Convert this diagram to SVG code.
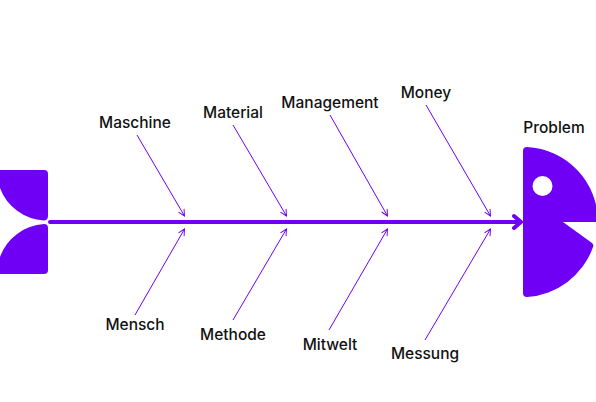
<svg xmlns="http://www.w3.org/2000/svg" width="596" height="402" viewBox="0 0 596 402">
<style>
.t{font-family:"Inter","Liberation Sans",sans-serif;font-size:15.500px;font-weight:500;fill:#111;text-anchor:middle}
.b{stroke:#6f00f5;stroke-width:1;fill:none}
.s{fill:#6f00f5}
</style>
<defs>
<marker id="a" viewBox="0 0 10 10" refX="9" refY="5" markerWidth="8" markerHeight="8" markerUnits="userSpaceOnUse" orient="auto"><path d="M1 1L9 5L1 9" fill="none" stroke="#6f00f5" stroke-width="1.200"/></marker>
</defs>
<g id="connectors">
<path d="M50 222H520M514 216L521 222L514 228" fill="none" stroke="#6f00f5" stroke-width="4" stroke-linecap="round" stroke-linejoin="round"/>
<path class="b" marker-end="url(#a)" d="M137 135L184.500 216"/>
<path class="b" marker-end="url(#a)" d="M233 125L286.500 216"/>
<path class="b" marker-end="url(#a)" d="M330 115L387.500 216"/>
<path class="b" marker-end="url(#a)" d="M426 105L490.500 216"/>
<path class="b" marker-end="url(#a)" d="M135 315L184.500 229"/>
<path class="b" marker-end="url(#a)" d="M233 320L286.500 229"/>
<path class="b" marker-end="url(#a)" d="M329 330L387.500 229"/>
<path class="b" marker-end="url(#a)" d="M425 340L490.500 229"/>
</g>
<g id="tail">
<path class="s" d="M0 170H44Q48 170 48 174V216Q48 220 44 220.500A50 50 0 0 1 0 188Z"/>
<path class="s" d="M0 274H44Q48 274 48 270V228Q48 224 44 224A50 50 0 0 0 0 257Z"/>
</g>
<g id="head">
<path class="s" d="M523 151Q523 147 527 147A75 75 0 0 1 598 222H563L592 243Q594 245 593 247A75 75 0 0 1 527 297Q523 297 523 293Z"/>
<circle cx="542.500" cy="186" r="10" fill="#fff"/>
<text class="t" x="554" y="133">Problem</text>
</g>
<g id="maschine"><text class="t" x="135" y="128">Maschine</text></g>
<g id="material"><text class="t" x="233" y="118">Material</text></g>
<g id="management"><text class="t" x="330" y="108">Management</text></g>
<g id="money"><text class="t" x="426" y="98">Money</text></g>
<g id="mensch"><text class="t" x="135" y="330">Mensch</text></g>
<g id="methode"><text class="t" x="233" y="340">Methode</text></g>
<g id="mitwelt"><text class="t" x="330" y="350">Mitwelt</text></g>
<g id="messung"><text class="t" x="425" y="359">Messung</text></g>
</svg>
